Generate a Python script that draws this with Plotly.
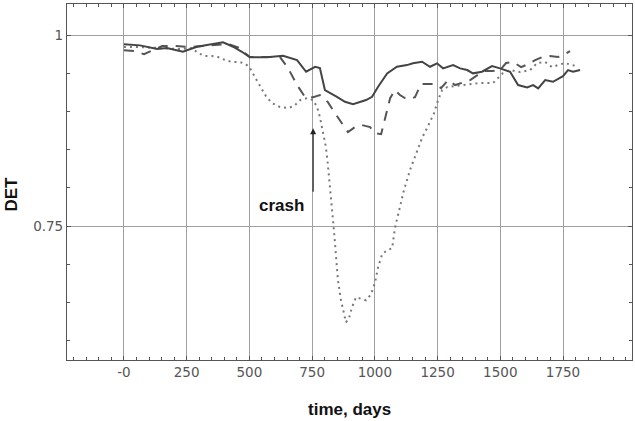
import plotly.graph_objects as go

# ---- data ----
solid_days = [0, 64, 132, 171, 235, 291, 331, 363, 395, 435, 470, 502, 570, 634, 690, 726, 762, 781, 801,
              849, 881, 913, 941, 965, 989, 1013, 1049, 1088, 1128, 1152, 1188, 1220, 1248, 1272, 1312,
              1340, 1368, 1391, 1427, 1467, 1499, 1539, 1571, 1607, 1631, 1651, 1679, 1710, 1750, 1770,
              1790, 1818]
solid_vals = [0.9878, 0.9865, 0.9817, 0.983, 0.9781, 0.9847, 0.9869, 0.9891, 0.9904, 0.9847, 0.9781,
              0.9708, 0.9708, 0.9729, 0.9673, 0.952, 0.9585, 0.9568, 0.928, 0.9192, 0.9127, 0.9097,
              0.9127, 0.915, 0.9192, 0.9323, 0.9499, 0.9585, 0.9607, 0.963, 0.9651, 0.9585, 0.963,
              0.9564, 0.9607, 0.9564, 0.9542, 0.9499, 0.952, 0.9594, 0.9564, 0.952, 0.9346, 0.9315,
              0.9346, 0.9302, 0.9411, 0.9389, 0.9463, 0.9542, 0.952, 0.9542]

dashed_days = [0, 44, 80, 112, 152, 207, 263, 315, 363, 415, 462, 482, 502, 562, 622, 654, 690, 722,
               754, 781, 813, 833, 861, 893, 921, 949, 981, 1001, 1025, 1041, 1061, 1080, 1100, 1120,
               1140, 1160, 1184, 1208, 1240, 1264, 1292, 1320, 1352, 1380, 1403, 1435, 1467, 1499,
               1523, 1551, 1583, 1611, 1639, 1667, 1698, 1730, 1758, 1778]
dashed_vals = [0.980, 0.979, 0.975, 0.980, 0.9856, 0.9856, 0.9843, 0.9856, 0.9869, 0.9882, 0.983,
               0.9764, 0.9712, 0.9712, 0.9712, 0.9568, 0.9346, 0.9188, 0.9188, 0.9215, 0.9123,
               0.9018, 0.8887, 0.873, 0.8796, 0.8822, 0.8796, 0.8717, 0.8704, 0.8914, 0.9175,
               0.928, 0.9215, 0.9175, 0.9162, 0.9188, 0.9359, 0.9359, 0.9359, 0.9306, 0.9411,
               0.9346, 0.9385, 0.9411, 0.9463, 0.9529, 0.9529, 0.9542, 0.9634, 0.9647, 0.9581,
               0.962, 0.9673, 0.9712, 0.9725, 0.9712, 0.9751, 0.979]

dotted_days = [0, 64, 144, 223, 271, 295, 323, 351, 375, 403, 431, 462, 486, 502, 522, 542, 566, 590,
               622, 654, 678, 702, 730, 754, 770, 781, 793, 805, 813, 821, 829, 837, 845, 853, 865,
               877, 885, 897, 909, 925, 941, 965, 985, 1001, 1013, 1029, 1049, 1069, 1080, 1096,
               1116, 1140, 1164, 1188, 1212, 1236, 1252, 1268, 1288, 1320, 1368, 1419, 1471, 1491,
               1511, 1539, 1579, 1619, 1647, 1679, 1706, 1730, 1758, 1786, 1806]
dotted_vals = [0.9843, 0.9843, 0.983, 0.9817, 0.983, 0.9764, 0.9725, 0.9725, 0.9712, 0.9673, 0.9647,
               0.9647, 0.962, 0.9568, 0.945, 0.9332, 0.9202, 0.911, 0.9058, 0.9045, 0.9071, 0.9149,
               0.9175, 0.9149, 0.9058, 0.8927, 0.8717, 0.8534, 0.8298, 0.8037, 0.7749, 0.7448,
               0.712, 0.6793, 0.6531, 0.6335, 0.6243, 0.6296, 0.644, 0.6571, 0.6558, 0.6531, 0.661,
               0.6767, 0.6963, 0.7134, 0.7186, 0.7212, 0.7474, 0.7709, 0.7971, 0.8233, 0.8455,
               0.8652, 0.8809, 0.8979, 0.9149, 0.928, 0.9319, 0.9332, 0.9359, 0.9372, 0.9372,
               0.9437, 0.9503, 0.9542, 0.9516, 0.9542, 0.9634, 0.9647, 0.9581, 0.9607, 0.9634,
               0.9607, 0.9594]

x_tickvals = [0, 250, 500, 750, 1000, 1250, 1500, 1750]
x_ticktext = ["-0", "250", "500", "750", "1000", "1250", "1500", "1750"]
y_tickvals = [0.75, 1.0]
y_ticktext = ["0.75", "1"]

x_title = "time, days"
y_title = "DET"
crash_label = "crash"
crash_day = 754
crash_tail = 0.793
crash_head = 0.878

fig = go.Figure()
fig.add_trace(go.Scatter(x=dotted_days, y=dotted_vals, mode="lines",
                         line=dict(color="#777777", width=2, dash="2px,4px"), showlegend=False))
fig.add_trace(go.Scatter(x=dashed_days, y=dashed_vals, mode="lines",
                         line=dict(color="#555555", width=2, dash="10px,8px"), showlegend=False))
fig.add_trace(go.Scatter(x=solid_days, y=solid_vals, mode="lines",
                         line=dict(color="#444444", width=2), showlegend=False))

title_font = dict(family="Liberation Sans, Arial", size=17, color="#111111")

fig.add_annotation(x=crash_day, y=crash_head, ax=crash_day, ay=crash_tail, xref="x", yref="y",
                   axref="x", ayref="y", text="", showarrow=True, arrowhead=2, arrowsize=1,
                   arrowwidth=1.2, arrowcolor="#222222")
fig.add_annotation(x=626, y=0.7775, xref="x", yref="y", text="<b>" + crash_label + "</b>",
                   showarrow=False, font=title_font)
fig.add_annotation(x=0.5, y=-0.1404, xref="paper", yref="paper", text="<b>" + x_title + "</b>",
                   showarrow=False, xanchor="center", yanchor="middle", font=title_font)
fig.add_annotation(x=-0.0982, y=0.466, xref="paper", yref="paper", text="<b>" + y_title + "</b>",
                   showarrow=False, xanchor="center", yanchor="middle", textangle=-90,
                   font=title_font)

axis_common = dict(showline=True, linecolor="#555555", linewidth=1.2, mirror="ticks",
                   showgrid=True, gridcolor="#a0a0a0", gridwidth=1, zeroline=False,
                   ticks="inside", ticklen=4, tickcolor="#555555", automargin=False,
                   tickfont=dict(family="DejaVu Sans", size=13.5, color="#555555"))

fig.update_xaxes(range=[-227, 2025], tickmode="array", tickvals=x_tickvals, ticktext=x_ticktext,
                 minor=dict(tickmode="linear", tick0=0, dtick=50, ticks="inside", ticklen=3,
                            tickcolor="#555555", showgrid=False),
                 **axis_common)
fig.update_yaxes(range=[0.575, 1.0406], tickmode="array", tickvals=y_tickvals, ticktext=y_ticktext,
                 minor=dict(tickmode="linear", tick0=0, dtick=0.05, ticks="inside", ticklen=3,
                            tickcolor="#555555", showgrid=False),
                 **axis_common)

fig.update_layout(width=635, height=421, margin=dict(l=67, r=3, t=4, b=61),
                  plot_bgcolor="white", paper_bgcolor="white")

fig.write_html("out.html", config={"displayModeBar": False},
               post_script="document.body.style.margin='0';")
